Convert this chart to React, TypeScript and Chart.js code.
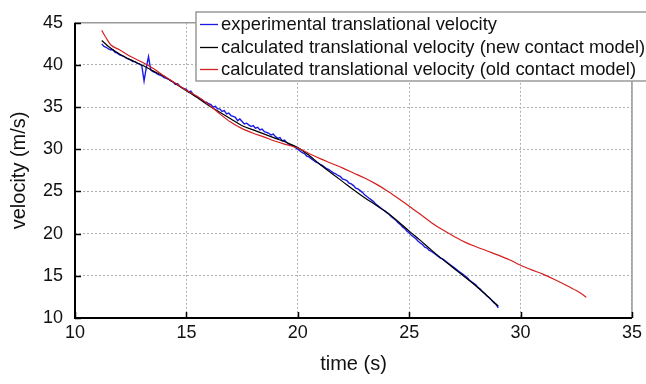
import React, { useEffect, useRef } from "react";
import { Chart, registerables } from "chart.js";

Chart.register(...registerables);

const seriesLabels = [
  "experimental translational velocity",
  "calculated translational velocity (new contact model)",
  "calculated translational velocity (old contact model)",
];

const xTitle = "time (s)";
const yTitle = "velocity (m/s)";

const blueTime = [
  11.2, 11.3, 11.4, 11.5, 11.6, 11.7, 11.8, 11.9,
  12.0, 12.1, 12.2, 12.3, 12.4, 12.5, 12.6, 12.7, 12.8, 12.9,
  13.0, 13.1, 13.2, 13.3, 13.4, 13.5, 13.6, 13.7, 13.8, 13.9,
  14.0, 14.1, 14.2, 14.3, 14.4, 14.5, 14.6, 14.7, 14.8, 14.9,
  15.0, 15.1, 15.2, 15.3, 15.4, 15.5, 15.6, 15.7, 15.8, 15.9,
  16.0, 16.1, 16.2, 16.3, 16.4, 16.5, 16.6, 16.7, 16.8, 16.9,
  17.0, 17.1, 17.2, 17.3, 17.4, 17.5, 17.6, 17.7, 17.8, 17.9,
  18.0, 18.1, 18.2, 18.3, 18.4, 18.5, 18.6, 18.7, 18.8, 18.9,
  19.0, 19.1, 19.2, 19.3, 19.4, 19.5, 19.6, 19.7, 19.8, 19.9,
  20.0, 20.1, 20.2, 20.3, 20.4, 20.5, 20.6, 20.7, 20.8, 20.9,
  21.0, 21.1, 21.2, 21.3, 21.4, 21.5, 21.6, 21.7, 21.8, 21.9,
  22.0, 22.1, 22.2, 22.3, 22.4, 22.5, 22.6, 22.7, 22.8, 22.9,
  23.0, 23.1, 23.2, 23.3, 23.4, 23.5, 23.6, 23.7, 23.8, 23.9,
  24.0, 24.1, 24.2, 24.3, 24.4, 24.5, 24.6, 24.7, 24.8, 24.9,
  25.0, 25.1, 25.2, 25.3, 25.4, 25.5, 25.6, 25.7, 25.8, 25.9,
  26.0, 26.1, 26.2, 26.3, 26.4, 26.5, 26.6, 26.7, 26.8, 26.9,
  27.0, 27.1, 27.2, 27.3, 27.4, 27.5, 27.6, 27.7, 27.8, 27.9,
  28.0, 28.1, 28.2, 28.3, 28.4, 28.5, 28.6, 28.7, 28.8, 28.9,
  29.0,
];

const blueVelocity = [
  42.5, 42.2, 42.1, 41.9, 41.8, 41.8, 41.5, 41.4,
  41.2, 41.1, 41.0, 40.8, 40.7, 40.6, 40.4, 40.4, 40.2, 40.1,
  39.9, 38.1, 39.7, 41.0, 39.4, 39.2, 39.1, 38.9, 38.8, 38.7,
  38.5, 38.4, 38.3, 38.1, 38.0, 37.7, 37.8, 37.5, 37.3, 37.2,
  37.1, 36.8, 36.9, 36.5, 36.3, 36.2, 36.0, 35.9, 35.6, 35.6,
  35.4, 35.3, 35.0, 35.1, 34.8, 34.8, 34.5, 34.6, 34.2, 34.3,
  34.0, 33.9, 33.8, 33.4, 33.6, 33.3, 33.0, 33.1, 32.9, 32.7,
  32.8, 32.5, 32.6, 32.3, 32.4, 32.1, 32.0, 31.9, 31.7, 31.8,
  31.5, 31.3, 31.4, 31.0, 31.1, 30.8, 30.6, 30.5, 30.4, 30.2,
  30.0, 29.8, 29.6, 29.5, 29.2, 29.1, 28.9, 28.7, 28.5, 28.4,
  28.2, 28.1, 27.9, 27.7, 27.6, 27.4, 27.2, 27.1, 26.9, 26.8,
  26.5, 26.4, 26.3, 26.0, 25.9, 25.7, 25.4, 25.3, 25.1, 24.9,
  24.6, 24.4, 24.2, 24.0, 23.8, 23.5, 23.3, 23.1, 22.9, 22.7,
  22.5, 22.3, 22.0, 21.8, 21.6, 21.3, 21.1, 20.8, 20.6, 20.3,
  20.1, 19.8, 19.6, 19.4, 19.1, 18.9, 18.7, 18.4, 18.3, 18.0,
  17.9, 17.7, 17.5, 17.3, 17.1, 17.0, 16.8, 16.6, 16.4, 16.2,
  16.0, 15.8, 15.6, 15.4, 15.2, 15.0, 14.8, 14.5, 14.3, 14.1,
  13.9, 13.6, 13.4, 13.1, 12.9, 12.6, 12.4, 12.1, 11.8, 11.6,
  11.2,
];

const newModelTime = [
  11.2, 11.5, 12.0, 12.5, 13.0, 13.5, 14.0, 14.5, 15.0, 15.5, 16.0, 16.5,
  17.0, 17.5, 18.0, 18.5, 19.0, 19.5, 20.0, 20.5, 21.0, 21.5, 22.0, 22.5,
  23.0, 23.5, 24.0, 24.5, 25.0, 25.5, 26.0, 26.5, 27.0, 27.5, 28.0, 28.5,
  28.8, 29.0,
];
const newModelVelocity = [
  42.9, 42.2, 41.3, 40.6, 40.0, 39.3, 38.65, 37.8, 36.95, 36.1, 35.2, 34.4,
  33.6, 32.8, 32.3, 31.8, 31.3, 30.8, 30.2, 29.3, 28.2, 27.2, 26.2, 25.2,
  24.25, 23.4, 22.5, 21.45, 20.3, 19.2, 18.05, 16.95, 15.9, 14.85, 13.8, 12.6,
  11.9, 11.4,
];

const oldModelTime = [
  11.2, 11.4, 11.6, 12.0, 12.5, 13.0, 13.5, 14.0, 14.5, 15.0, 15.5, 16.0,
  16.5, 17.0, 17.5, 18.0, 18.5, 19.0, 19.5, 20.0, 20.5, 21.0, 21.5, 22.0,
  22.5, 23.0, 23.5, 24.0, 24.5, 25.0, 25.5, 26.0, 26.5, 27.0, 27.5, 28.0,
  28.5, 29.0, 29.5, 30.0, 30.5, 31.0, 31.5, 32.0, 32.5, 32.8, 32.95,
];
const oldModelVelocity = [
  44.1, 43.2, 42.4, 41.8, 41.0, 40.35, 39.6, 38.7, 37.85, 37.0, 36.25, 35.3,
  34.2, 33.2, 32.45, 31.9, 31.45, 30.95, 30.55, 30.15, 29.5, 28.9, 28.35, 27.8,
  27.2, 26.6, 25.9, 25.1, 24.2, 23.25, 22.3, 21.3, 20.45, 19.7, 19.0, 18.45,
  17.95, 17.45, 16.9, 16.25, 15.7, 15.2, 14.6, 13.95, 13.25, 12.75, 12.45,
];

const seriesColors = ["#1a1ae6", "#000000", "#d42020"];

const FONT = "'Liberation Sans', Arial, sans-serif";

function toPoints(xs: number[], ys: number[]) {
  return xs.map((x, i) => ({ x, y: ys[i] }));
}

export default function App() {
  const ref = useRef<HTMLCanvasElement | null>(null);

  useEffect(() => {
    const canvas = ref.current;
    if (!canvas) return;

    const framePlugin = {
      id: "framePlugin",
      afterDraw(chart: any) {
        const { ctx, chartArea: a, scales } = chart;
        ctx.save();
        ctx.strokeStyle = "#9a9a9a";
        ctx.lineWidth = 1.5;
        ctx.beginPath();
        ctx.moveTo(a.left, a.top);
        ctx.lineTo(a.right, a.top);
        ctx.lineTo(a.right, a.bottom);
        ctx.stroke();
        ctx.strokeStyle = "#000";
        ctx.lineWidth = 1.5;
        ctx.beginPath();
        scales.x.ticks.forEach((t: any) => {
          const px = Math.round(scales.x.getPixelForValue(t.value)) + 0.5;
          ctx.moveTo(px, a.bottom);
          ctx.lineTo(px, a.bottom - 6);
        });
        scales.y.ticks.forEach((t: any) => {
          const py = Math.round(scales.y.getPixelForValue(t.value)) + 0.5;
          ctx.moveTo(a.left, py);
          ctx.lineTo(a.left + 6, py);
        });
        ctx.stroke();
        ctx.lineWidth = 2;
        ctx.beginPath();
        ctx.moveTo(a.left, a.top);
        ctx.lineTo(a.left, a.bottom);
        ctx.lineTo(a.right, a.bottom);
        ctx.stroke();

        const lx = 196;
        const ly = 12;
        const lw = 646 - lx + 2;
        const lh = 69;
        ctx.fillStyle = "#ffffff";
        ctx.fillRect(lx, ly, lw, lh);
        ctx.strokeStyle = "#9a9a9a";
        ctx.lineWidth = 1.5;
        ctx.strokeRect(lx, ly, lw, lh);
        ctx.font = `18.4px ${FONT}`;
        ctx.textBaseline = "middle";
        ctx.textAlign = "left";
        const rows = [24, 47, 69];
        seriesLabels.forEach((label, i) => {
          const y = rows[i];
          ctx.strokeStyle = seriesColors[i];
          ctx.lineWidth = 1.3;
          ctx.beginPath();
          ctx.moveTo(200, y + 0.5);
          ctx.lineTo(218, y + 0.5);
          ctx.stroke();
          ctx.fillStyle = "#111";
          ctx.fillText(label, 221, y + 1);
        });
        ctx.restore();
      },
    };

    const chart = new Chart(canvas, {
      type: "line",
      data: {
        datasets: [
          {
            label: seriesLabels[0],
            data: toPoints(blueTime, blueVelocity),
            borderColor: seriesColors[0],
            borderWidth: 1.4,
            pointRadius: 0,
            tension: 0,
            order: 3,
          },
          {
            label: seriesLabels[1],
            data: toPoints(newModelTime, newModelVelocity),
            borderColor: seriesColors[1],
            borderWidth: 1.2,
            pointRadius: 0,
            cubicInterpolationMode: "monotone",
            order: 2,
          },
          {
            label: seriesLabels[2],
            data: toPoints(oldModelTime, oldModelVelocity),
            borderColor: seriesColors[2],
            borderWidth: 1.2,
            pointRadius: 0,
            cubicInterpolationMode: "monotone",
            order: 1,
          },
        ],
      },
      options: {
        animation: false,
        responsive: false,
        devicePixelRatio: 1,
        layout: { padding: { top: 11, right: 12, left: 0, bottom: 0 } },
        plugins: {
          legend: { display: false },
          tooltip: { enabled: false },
        },
        scales: {
          x: {
            type: "linear",
            min: 10,
            max: 35,
            ticks: {
              stepSize: 5,
              color: "#111",
              font: { family: FONT, size: 18 },
              padding: 4,
              maxRotation: 0,
            },
            grid: { color: "#b0b0b0", lineWidth: 1, drawTicks: false },
            border: { display: false, dash: [2, 2] },
            title: {
              display: true,
              text: xTitle,
              color: "#111",
              font: { family: FONT, size: 20 },
              padding: { top: 0, bottom: 8 },
            },
            afterFit(scale: any) {
              scale.height = 66;
            },
          },
          y: {
            type: "linear",
            min: 10,
            max: 45,
            ticks: {
              stepSize: 5,
              color: "#111",
              font: { family: FONT, size: 18 },
              padding: 12,
            },
            grid: { color: "#b0b0b0", lineWidth: 1, drawTicks: false },
            border: { display: false, dash: [2, 2] },
            title: {
              display: true,
              text: yTitle,
              color: "#111",
              font: { family: FONT, size: 20 },
              padding: { top: 7, bottom: 0 },
            },
            afterFit(scale: any) {
              scale.width = 75;
            },
          },
        },
      },
      plugins: [framePlugin],
    } as any);

    return () => chart.destroy();
  }, []);

  return (
    <div style={{ position: "fixed", left: 0, top: 0, width: 646, height: 384, background: "#fff" }}>
      <canvas ref={ref} width={646} height={384} style={{ display: "block" }} />
    </div>
  );
}
